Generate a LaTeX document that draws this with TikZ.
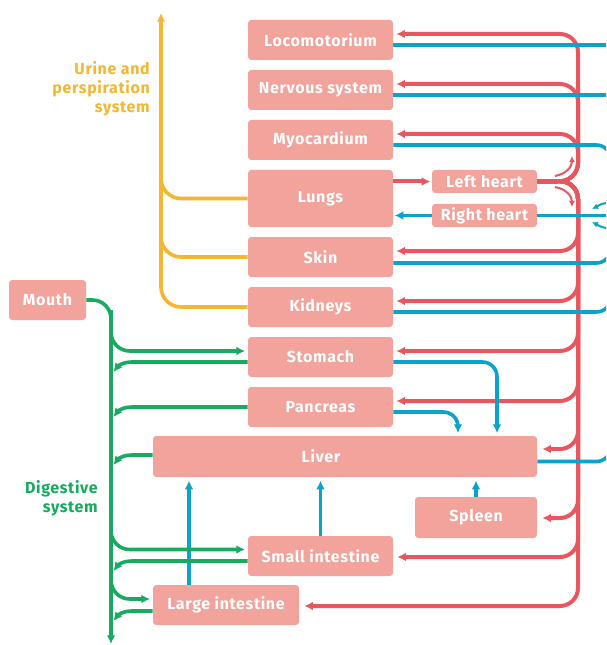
\documentclass[tikz,border=0pt]{standalone}
\usepackage{fontspec}
\setmainfont{Fira Sans}[LetterSpace=4]
\usetikzlibrary{arrows.meta}
\definecolor{boxc}{HTML}{F2A39B}
\definecolor{redc}{HTML}{E8575F}
\definecolor{bluec}{HTML}{0AA3C9}
\definecolor{greenc}{HTML}{16AB5E}
\definecolor{yelc}{HTML}{F5B731}
\begin{document}
\begin{tikzpicture}[x=0.75pt,y=-0.75pt,
  box/.style={rectangle, rounded corners=2.5pt, fill=boxc, text=white,
    font=\bfseries\fontsize{12}{13}\selectfont, inner sep=0pt,
    minimum width=145*0.75pt, minimum height=40*0.75pt},
  smallbox/.style={box, minimum width=105*0.75pt, minimum height=23*0.75pt},
  tip/.style={-{Latex[length=6.5pt,width=6.5pt]}},
  stip/.style={-{Latex[length=4.5pt,width=4.5pt]}},
  rl/.style={draw=redc, line width=3pt, rounded corners=13.5pt},
  bl/.style={draw=bluec, line width=2.7pt, rounded corners=11pt},
  gl/.style={draw=greenc, line width=2.7pt, rounded corners=14pt},
  gc/.style={draw=greenc, line width=2.7pt},
  yl/.style={draw=yelc, line width=2.7pt, rounded corners=15pt},
  lbl/.style={font=\bfseries\fontsize{12}{14.25}\selectfont, align=right, anchor=east, inner sep=0pt}
]
\useasboundingbox (0,0) rectangle (606,645);
\clip (0,0) rectangle (606,645);
\fill[white] (0,0) rectangle (606,645);

% boxes
\node[box] (loco) at (320.5,40) {Locomotorium};
\node[box] (nerv) at (320.5,90) {Nervous system};
\node[box] (myo) at (320.5,140) {Myocardium};
\node[box, minimum height=57*0.75pt] (lungs) at (320.5,198.5) {Lungs};
\node[box] (skin) at (320.5,257) {Skin};
\node[box] (kid) at (320.5,307) {Kidneys};
\node[box] (stom) at (320.5,357) {Stomach};
\node[box] (panc) at (320.5,407) {Pancreas};
\node[box, minimum width=384*0.75pt, minimum height=41*0.75pt] (liver) at (345,456.5) {};
\node[box, fill=none] (livert) at (321,456.5) {Liver};
\node[box, minimum width=122*0.75pt, minimum height=41*0.75pt] (spleen) at (476,517.5) {Spleen};
\node[box] (small) at (320.5,556) {Small intestine};
\node[box, minimum width=146*0.75pt] (large) at (226,605) {Large intestine};
\node[box, minimum width=77*0.75pt] (mouth) at (47.5,300) {Mouth};
\node[smallbox] (lh) at (484.5,181.5) {Left heart};
\node[smallbox] (rh) at (484.5,215.5) {Right heart};

% labels
\node[lbl, text=yelc] (ylab) at (150,89) {Urine and\\perspiration\\system};
\node[lbl, text=greenc] (glab) at (98,498) {Digestive\\system};

% red arterial lines
\draw[rl,tip] (lh.east) -- (578,181) -- (578,34) -- ([shift={(3,-6)}]loco.east);
\draw[rl,tip] (lh.east) -- (578,181) -- (578,84) -- ([shift={(3,-6)}]nerv.east);
\draw[rl,tip] (lh.east) -- (578,181) -- (578,134) -- ([shift={(3,-6)}]myo.east);
\draw[rl,tip] (lh.east) -- (578,181) -- (578,251) -- ([shift={(3,-6)}]skin.east);
\draw[rl,tip] (lh.east) -- (578,181) -- (578,301) -- ([shift={(3,-6)}]kid.east);
\draw[rl,tip] (lh.east) -- (578,181) -- (578,351) -- ([shift={(3,-6)}]stom.east);
\draw[rl,tip] (lh.east) -- (578,181) -- (578,401) -- ([shift={(3,-6)}]panc.east);
\draw[rl,tip] (lh.east) -- (578,181) -- (578,449) -- ([shift={(5,-7.5)}]liver.east);
\draw[rl,tip] (lh.east) -- (578,181) -- (578,518) -- ([shift={(5,0.5)}]spleen.east);
\draw[rl,tip] (lh.east) -- (578,181) -- (578,557) -- ([shift={(4,1)}]small.east);
\draw[rl,tip] (lh.east) -- (578,181) -- (578,606) -- ([shift={(5,1)}]large.east);
\draw[rl,tip] (lungs.east |- lh.west) -- ([xshift=-1pt]lh.west);
\draw[redc, line width=1.5pt, stip] (555,176) .. controls (566,174) and (572,167) .. (572,156);
\draw[redc, line width=1.5pt, stip] (555,187) .. controls (566,189) and (572,196) .. (572,207);

% blue venous lines
\draw[bl] ([yshift=-5*0.75pt]loco.east) -- (625,45);
\draw[bl] ([yshift=-5*0.75pt]nerv.east) -- (625,95);
\draw[bl] ([yshift=-5*0.75pt]myo.east) -- (611,145) -- (611,215);
\draw[bl] ([yshift=-6*0.75pt]skin.east) -- (611,263) -- (611,215);
\draw[bl] ([yshift=-5*0.75pt]kid.east) -- (611,312) -- (611,215);
\draw[bl] ([yshift=-5*0.75pt]liver.east) -- (611,461.5) -- (611,300);
\draw[bl] (625,215.5) -- (rh.east);
\draw[bl,tip] (rh.west) -- ([xshift=1pt]lungs.east |- rh.west);
\draw[bluec, line width=1.5pt, stip] (606,203) .. controls (600,204) and (596,207) .. (592,209);
\draw[bluec, line width=1.5pt, stip] (606,228) .. controls (600,227) and (596,224) .. (592,222);
\draw[bl,tip] ([yshift=-5*0.75pt]stom.east) -- (497,362) -- ([yshift=2pt]liver.north -| 497,0);
\draw[bl,tip] ([yshift=-5*0.75pt]panc.east) -- (458,412) -- ([yshift=2pt]liver.north -| 458,0);
\draw[bl,tip] (large.north -| 189,0) -- ([yshift=-2.5pt]liver.south -| 189,0);
\draw[bl,tip] (small.north) -- ([yshift=-2.5pt]liver.south -| small.north);
\draw[bl,tip] (spleen.north) -- ([yshift=-2.5pt]liver.south -| spleen.north);

% green digestive lines
\draw[gl,tip] (mouth.east) -- (111,300) -- (111,644);
\draw[gl,tip] (111,310) -- (111,351) -- ([xshift=-2pt]stom.west |- 0,351);
\draw[gl,tip] (111,520) -- (111,549.5) -- ([xshift=-2pt]small.west |- 0,549.5);
\draw[gl,tip] (111,560) -- (111,599) -- ([xshift=-2pt]large.west |- 0,599);
\draw[gc,tip] ([yshift=-5*0.75pt]stom.west) -- (132,362) .. controls (123,362) and (118,366) .. (113.5,372);
\draw[gc,tip] (panc.west) -- (132,407) .. controls (123,407) and (118,411) .. (113.5,417);
\draw[gc,tip] ([yshift=1.5*0.75pt]liver.west) -- (132,455) .. controls (123,455) and (118,459) .. (113.5,465);
\draw[gc,tip] ([yshift=-5*0.75pt]small.west) -- (132,561) .. controls (123,561) and (118,565) .. (113.5,571);
\draw[gc,tip] ([yshift=-6*0.75pt]large.west) -- (132,611) .. controls (123,611) and (118,615) .. (113.5,621);

% yellow excretion lines
\draw[yl,tip] (lungs.west) -- (161,198.5) -- (161,13);
\draw[yl] (skin.west) -- (161,257) -- (161,150);
\draw[yl] (kid.west) -- (161,307) -- (161,150);
\end{tikzpicture}
\end{document}
